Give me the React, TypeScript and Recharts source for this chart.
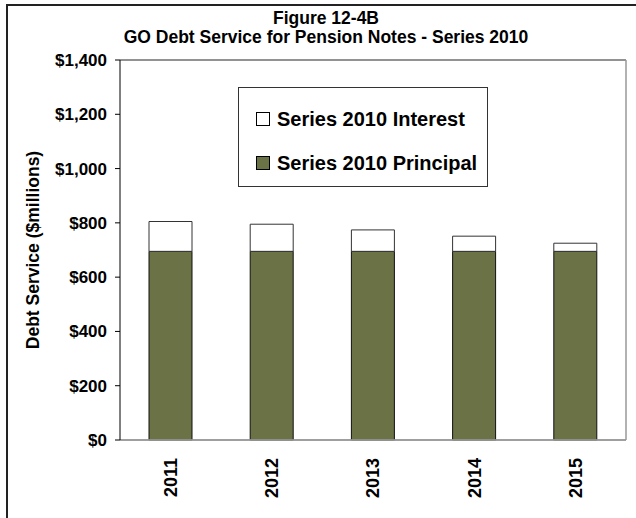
import { BarChart, Bar, XAxis, YAxis, CartesianGrid, Legend, ReferenceLine } from 'recharts';

const years = ['2011', '2012', '2013', '2014', '2015'];
const principal = [695, 695, 695, 695, 695];
const interest = [110, 100, 79, 56, 30];
const yTicks = [0, 200, 400, 600, 800, 1000, 1200, 1400];
const legendOrder = ['Series 2010 Interest', 'Series 2010 Principal'];

const data = years.map((year, i) => ({
  year,
  principal: principal[i],
  interest: interest[i],
}));

const FONT = '"Liberation Sans", Arial, sans-serif';
const OLIVE = '#6b7245';

const money = (v: number) => '$' + v.toLocaleString('en-US');

function YearTick(props: any) {
  const { x, y, payload } = props;
  return (
    <g transform={`translate(${x},${y + 10}) rotate(-90)`}>
      <text textAnchor="end" dy="0.35em" fontSize={18} fontWeight="bold" fill="#000" fontFamily={FONT}>
        {payload.value}
      </text>
    </g>
  );
}

function AxisTitle(props: any) {
  const { viewBox } = props;
  const cx = viewBox.x + 33;
  const cy = viewBox.y + viewBox.height / 2;
  return (
    <text
      x={cx}
      y={cy}
      transform={`rotate(-90, ${cx}, ${cy})`}
      textAnchor="middle"
      dy="0.35em"
      fontSize={17.5}
      fontWeight="bold"
      fontFamily={FONT}
      fill="#000"
    >
      Debt Service ($millions)
    </text>
  );
}

function LegendBox(props: any) {
  const items = [...(props.payload || [])].sort(
    (a: any, b: any) => legendOrder.indexOf(a.value) - legendOrder.indexOf(b.value)
  );
  return (
    <div
      style={{
        width: 248,
        height: 89,
        border: '1px solid #333',
        background: '#fff',
        boxSizing: 'content-box',
        fontFamily: FONT,
        fontWeight: 'bold',
        fontSize: 20,
        paddingTop: 9,
      }}
    >
      {items.map((item: any) => (
        <div key={item.value} style={{ display: 'flex', alignItems: 'center', height: 44, paddingLeft: 17 }}>
          <span
            style={{
              display: 'inline-block',
              width: 12,
              height: 12,
              border: '1px solid #000',
              background: item.payload?.fill ?? item.color,
              marginRight: 7,
            }}
          />
          <span>{item.value}</span>
        </div>
      ))}
    </div>
  );
}

export default function App() {
  return (
    <div style={{ position: 'absolute', left: 0, top: 0, width: 636, height: 518, background: '#fff', fontFamily: FONT }}>
      <div
        style={{
          position: 'absolute',
          left: 6,
          top: 4,
          right: 0,
          bottom: 0,
          borderLeft: '2px solid #222',
          borderTop: '2px solid #222',
        }}
      />
      <div
        style={{
          position: 'absolute',
          left: 0,
          top: 9,
          width: 652,
          textAlign: 'center',
          fontSize: 17.5,
          lineHeight: '19px',
          fontWeight: 'bold',
          color: '#000',
        }}
      >
        <div>Figure 12-4B</div>
        <div>GO Debt Service for Pension Notes - Series 2010</div>
      </div>
      <BarChart
        width={636}
        height={518}
        data={data}
        margin={{ top: 60, right: 5, bottom: 0, left: 0 }}
        barSize={43}
        style={{ position: 'absolute', left: 0, top: 0 }}
      >
        <CartesianGrid vertical={false} stroke="#000" />
        <ReferenceLine yAxisId="left" y={1400} stroke="#999" strokeWidth={1.5} />
        <XAxis
          dataKey="year"
          height={78}
          tickLine={false}
          axisLine={{ stroke: '#aaa', strokeWidth: 1.5 }}
          tick={<YearTick />}
          interval={0}
        />
        <YAxis
          yAxisId="left"
          width={120}
          domain={[0, 1400]}
          ticks={yTicks}
          tickFormatter={money}
          tickSize={5}
          tickMargin={8}
          axisLine={{ stroke: '#000' }}
          tickLine={{ stroke: '#000' }}
          tick={{ fontSize: 17, fontWeight: 'bold', fill: '#000', fontFamily: FONT }}
          label={{ content: <AxisTitle /> }}
        />
        <YAxis
          yAxisId="right"
          orientation="right"
          width={5}
          domain={[0, 1400]}
          tick={false}
          tickLine={false}
          axisLine={{ stroke: '#999', strokeWidth: 1.5 }}
        />
        <Legend
          layout="vertical"
          align="center"
          verticalAlign="middle"
          content={<LegendBox />}
          wrapperStyle={{ position: 'absolute', left: 238, top: 87, width: 250, height: 91 }}
        />
        <Bar
          yAxisId="left"
          dataKey="principal"
          name="Series 2010 Principal"
          stackId="a"
          fill={OLIVE}
          stroke="#111"
          strokeWidth={1}
          isAnimationActive={false}
        />
        <Bar
          yAxisId="left"
          dataKey="interest"
          name="Series 2010 Interest"
          stackId="a"
          fill="#fff"
          stroke="#333"
          strokeWidth={1}
          isAnimationActive={false}
        />
      </BarChart>
    </div>
  );
}
